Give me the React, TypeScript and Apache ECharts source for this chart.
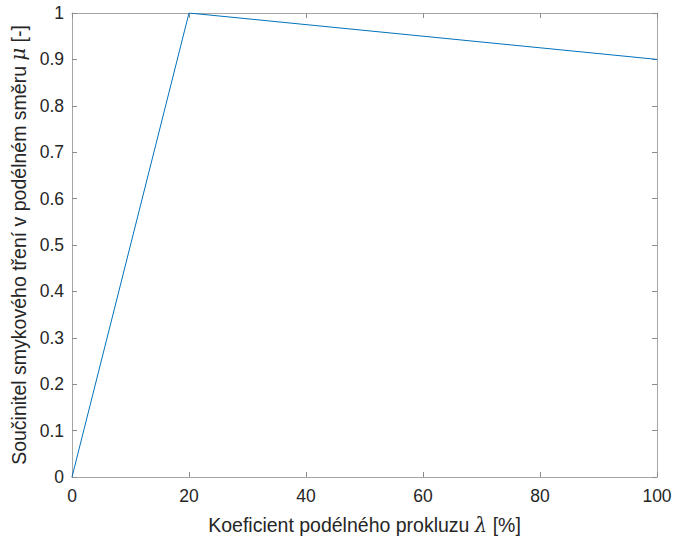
import React, { useEffect, useRef } from "react";
import * as echarts from "echarts";

const slipPercent = [0, 20, 100];
const frictionCoef = [0, 1, 0.9];

export default function App() {
  const ref = useRef<HTMLDivElement>(null);
  useEffect(() => {
    document.body.style.margin = "0";
    const chart = echarts.init(ref.current!, null, { renderer: "svg" });
    const axisCommon = {
      axisLine: { show: true, onZero: false, lineStyle: { color: "#a6a6a6", width: 1 } },
      axisTick: { show: true, inside: true, length: 5, lineStyle: { color: "#8c8c8c" } },
      splitLine: { show: false },
    };
    const font = "Liberation Sans, Arial, Helvetica, sans-serif";
    const rich = {
      n: { fontSize: 19.5, color: "#262626", fontFamily: font },
      g: { fontSize: 19.5, color: "#262626", fontFamily: "DejaVu Serif, serif", fontStyle: "italic" },
    };
    chart.setOption({
      animation: false,
      backgroundColor: "#ffffff",
      grid: { left: 72, right: 18, top: 13, bottom: 60, containLabel: false, outerBoundsMode: "none" },
      xAxis: [
        {
          type: "value",
          min: 0,
          max: 100,
          interval: 20,
          position: "bottom",
          ...axisCommon,
          axisLabel: { color: "#262626", fontSize: 17.5, fontFamily: font, margin: 10 },
          name: "{n|Koeficient podélného prokluzu }{g|λ}{n| [%]}",
          nameLocation: "middle",
          nameGap: 38,
          nameTextStyle: { rich },
        },
        {
          type: "value",
          min: 0,
          max: 100,
          interval: 20,
          position: "top",
          ...axisCommon,
          axisLabel: { show: false },
        },
      ],
      yAxis: [
        {
          type: "value",
          min: 0,
          max: 1,
          interval: 0.1,
          position: "left",
          ...axisCommon,
          axisLabel: {
            color: "#262626",
            fontSize: 17.5,
            fontFamily: font,
            margin: 8,
            formatter: (v: number) => String(Math.round(v * 10) / 10),
          },
          name: "{n|Součinitel smykového tření v podélném směru }{g|μ}{n| [-]}",
          nameLocation: "middle",
          nameGap: 40,
          nameRotate: 90,
          nameTextStyle: { rich },
        },
        {
          type: "value",
          min: 0,
          max: 1,
          interval: 0.1,
          position: "right",
          ...axisCommon,
          axisLabel: { show: false },
        },
      ],
      series: [
        {
          type: "line",
          data: slipPercent.map((x, i) => [x, frictionCoef[i]]),
          showSymbol: false,
          lineStyle: { color: "#0072BD", width: 1 },
          xAxisIndex: 0,
          yAxisIndex: 0,
        },
      ],
    });
    return () => chart.dispose();
  }, []);
  return <div ref={ref} style={{ position: "fixed", left: 0, top: 0, width: 675, height: 537 }} />;
}
